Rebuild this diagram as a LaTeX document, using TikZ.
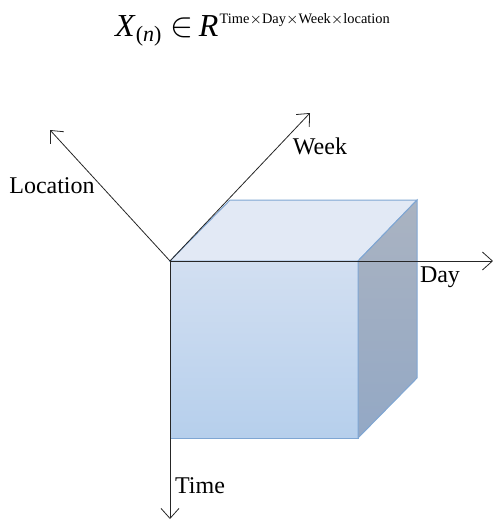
\documentclass[tikz,border=0pt]{standalone}
\usepackage{fontspec}
\setmainfont{Liberation Serif}
\usetikzlibrary{arrows.meta}
\definecolor{edgeblue}{HTML}{7FA6D3}
\definecolor{fronttop}{HTML}{D2DFF1}
\definecolor{frontbot}{HTML}{B6CFEC}
\definecolor{topface}{HTML}{E2E9F5}
\definecolor{sidetop}{HTML}{AAB3C1}
\definecolor{sidebot}{HTML}{93A8C5}
\begin{document}
\begin{tikzpicture}[
		x=0.5pt, y=-0.5pt,
		ax/.style = {-{Straight Barb[length=5pt,width=9pt]}, thin, black!85},
		lbl/.style = {font=\fontsize{12}{14}\selectfont, inner sep=1pt},
		face/.style = {draw=edgeblue, line width=0.5pt}
		]
		\useasboundingbox (0,0) rectangle (493,520);
		
		%Cube corners
		\coordinate (o)  at (170,261);
		\coordinate (fr) at (358,261);
		\coordinate (fb) at (170,438);
		\coordinate (fc) at (358,438);
		\coordinate (bl) at (230,200);
		\coordinate (br) at (417,200);
		\coordinate (bb) at (417,378);
		
		%Faces
		\draw[face, top color=fronttop, bottom color=frontbot]
			(o) -- (fr) -- (fc) -- (fb) -- cycle;
		\draw[face, fill=topface]
			(o) -- (bl) -- (br) -- (fr) -- cycle;
		\draw[face, top color=sidetop, bottom color=sidebot]
			(fr) -- (br) -- (bb) -- (fc) -- cycle;
		
		%Axis ends
		\coordinate (day)  at (493,261);
		\coordinate (week) at (310,113);
		\coordinate (loc)  at (50,130);
		\coordinate (time) at (170,519);
		
		%Axes
		\draw[ax] (o) -- (day);
		\draw[ax] (o) -- (week);
		\draw[ax] (o) -- (loc);
		\draw[ax] (o) -- (time);
		
		%Labels
		\node[lbl] (dayl)  at (440,277) {Day};
		\node[lbl] (weekl) at (320,146) {Week};
		\node[lbl] (locl)  at (52,186)  {Location};
		\node[lbl] (timel) at (200,486) {Time};
		\node[anchor=base, inner sep=0pt] (title) at (253,36)
			{\fontsize{16}{19}\selectfont \textit{X}$_{\mbox{\fontsize{11}{12}\selectfont(\textit{n})}}\mkern4mu{\in}\mkern3mu$\textit{R\/}$^{\mkern1mu\mbox{\fontsize{7.2}{9}\selectfont Time$\times$Day$\times$Week$\times$location}}$};
		
	\end{tikzpicture}
\end{document}
